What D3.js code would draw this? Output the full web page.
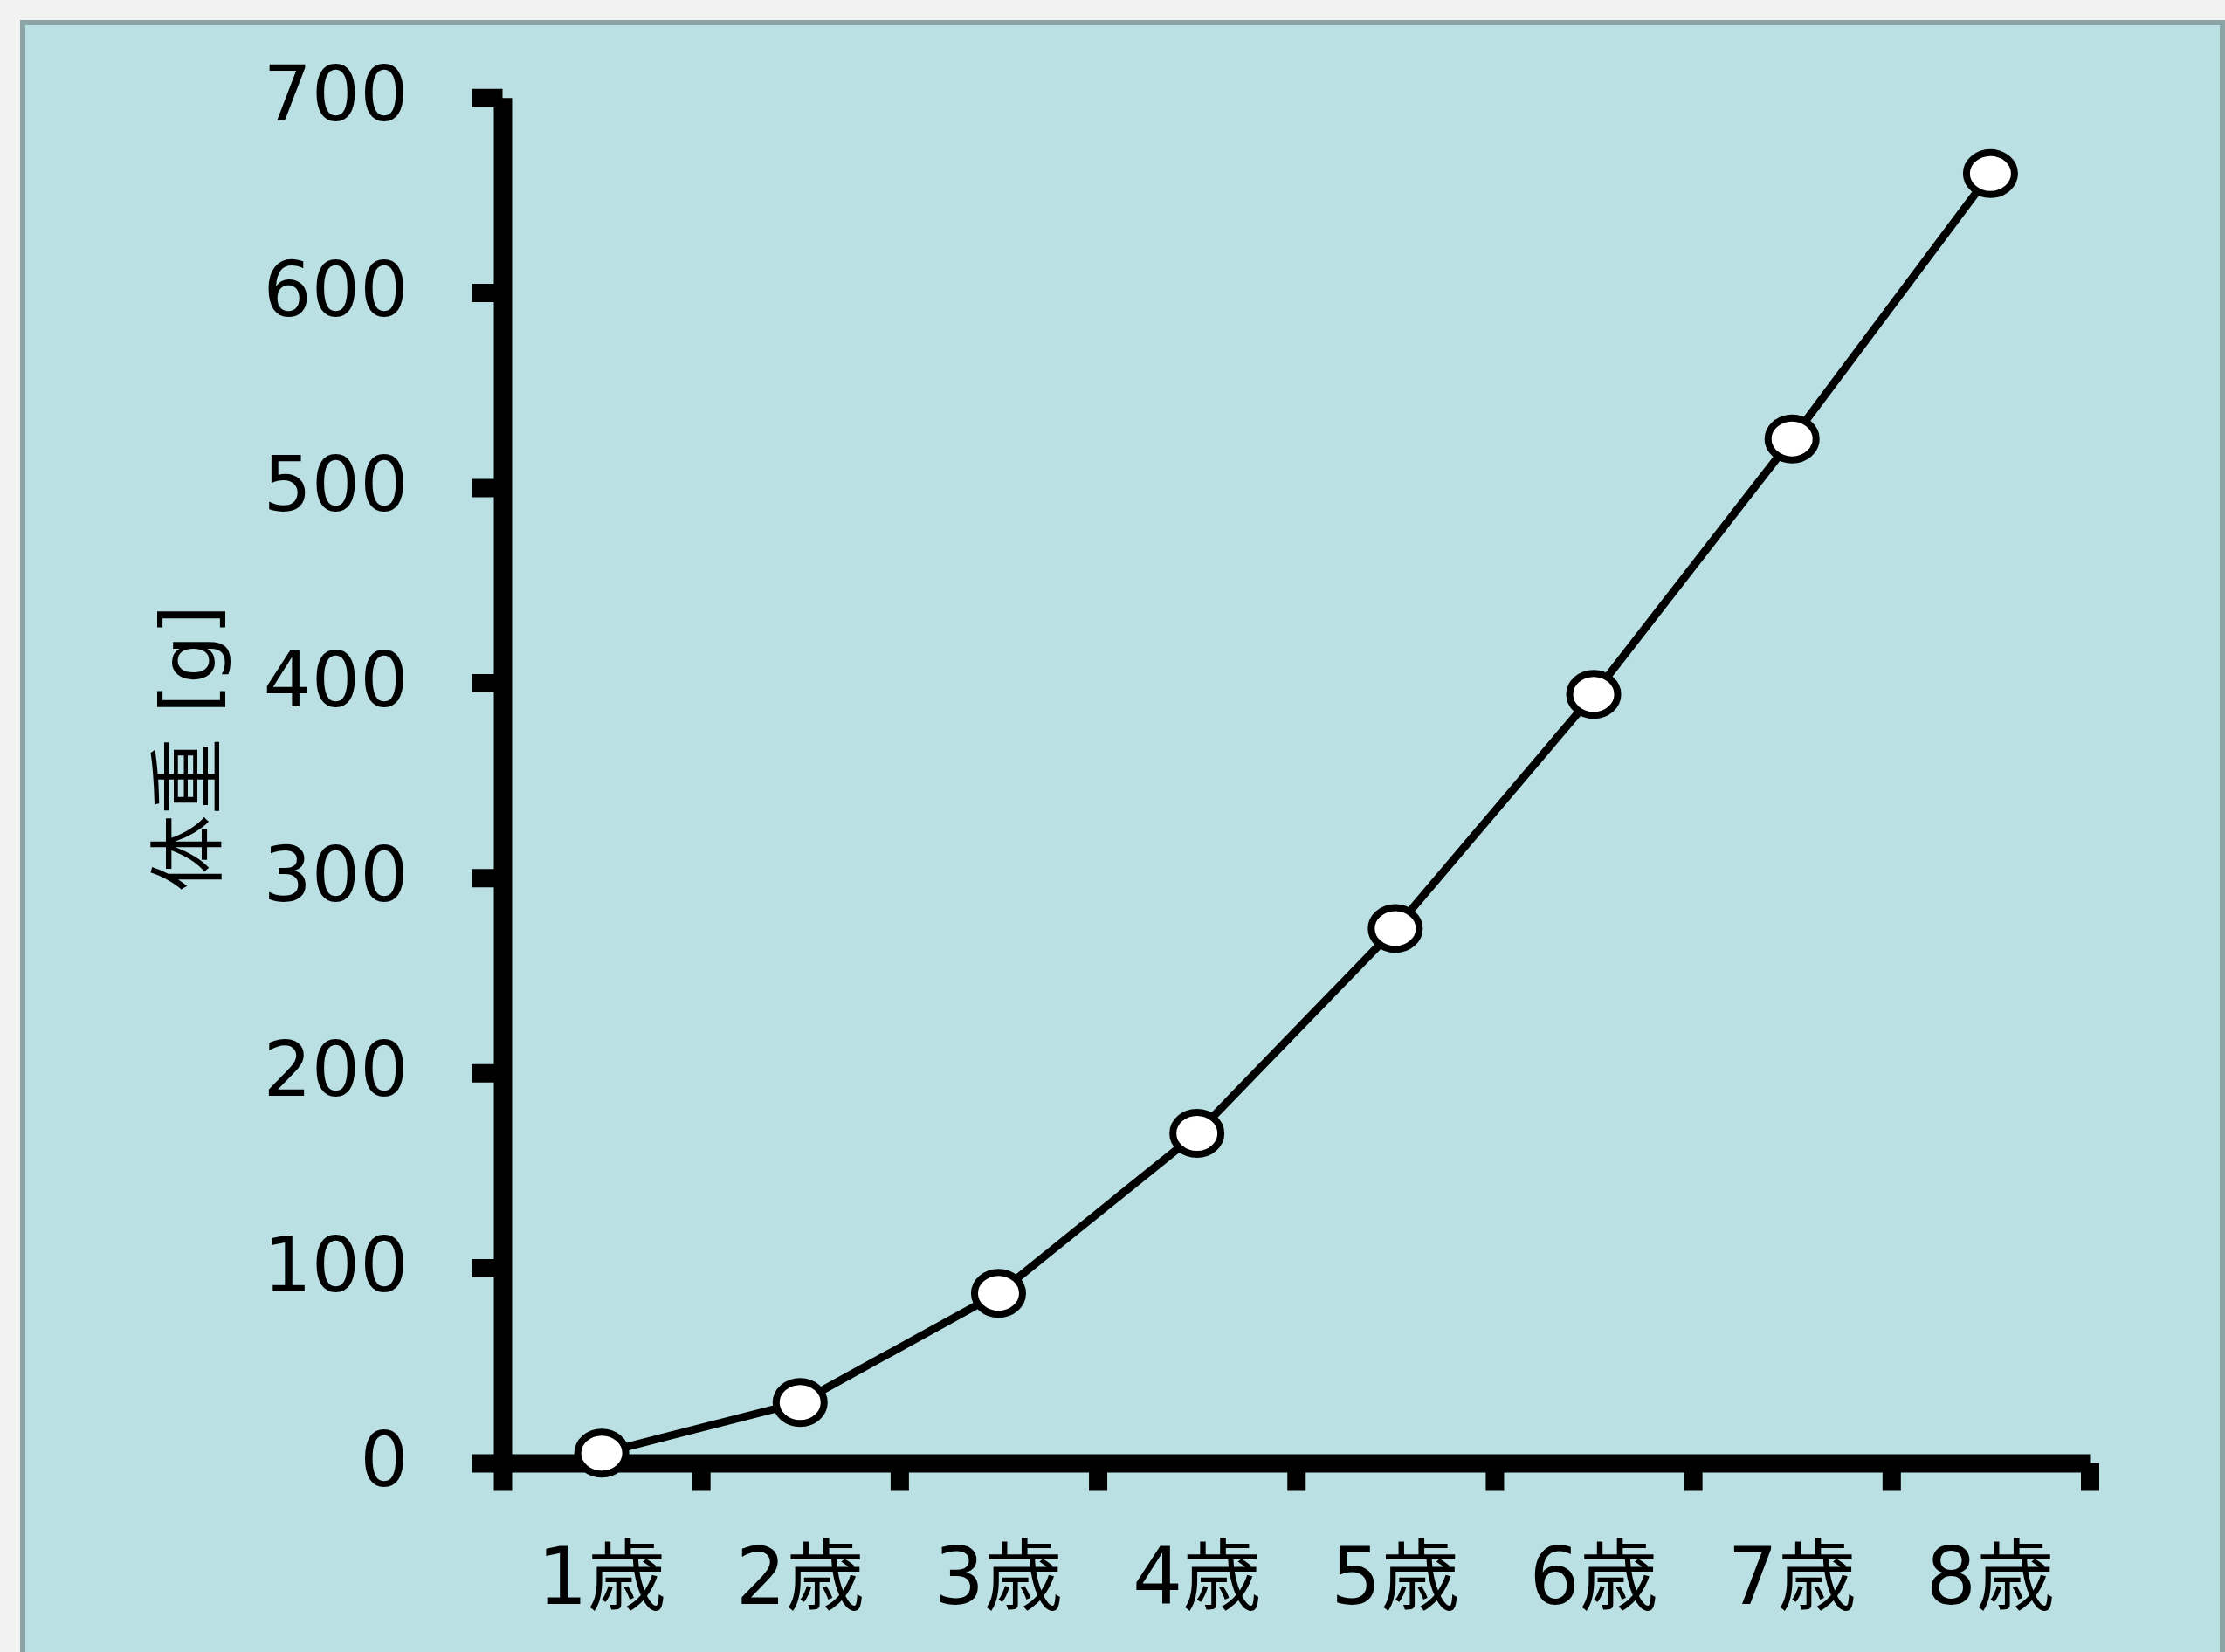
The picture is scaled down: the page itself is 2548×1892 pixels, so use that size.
<!DOCTYPE html>
<html>
<head>
<meta charset="utf-8">
<script src="https://d3js.org/d3.v7.min.js"></script>
<style>
  html, body { margin: 0; padding: 0; background: #f2f2f2; }
  svg { display: block; }
  text { font-family: "DejaVu Sans", "Noto Sans CJK JP", sans-serif; fill: #000; }
</style>
</head>
<body>
<svg id="chart" width="2548" height="1892"></svg>
<script>
// Body weight by age
const ages = ["1歳", "2歳", "3歳", "4歳", "5歳", "6歳", "7歳", "8歳"];
const weights = [5, 31, 87, 169, 274, 394, 525, 661];
const yTicks = [0, 100, 200, 300, 400, 500, 600, 700];
const yTitle = "体重 [g]";

const W = 2548, H = 1892;
const svg = d3.select("#chart");

// panel background with border
svg.append("rect")
  .attr("x", 26).attr("y", 26)
  .attr("width", 2519).attr("height", H + 20)
  .attr("fill", "#bbe0e3")
  .attr("stroke", "#8ba5a7")
  .attr("stroke-width", 6);

const plotLeft = 575.5, plotRight = 2393, plotTop = 111.7, plotBottom = 1675.5;

const x = d3.scaleBand().domain(ages).range([plotLeft, plotRight]).paddingInner(0).paddingOuter(0);
const xEdges = d3.scaleLinear().domain([0, ages.length]).range([plotLeft, plotRight]);
const y = d3.scaleLinear().domain([0, 700]).range([plotBottom, plotTop]);

const AXIS_W = 21;

// y axis
const gy = svg.append("g")
  .attr("transform", `translate(${plotLeft},0)`)
  .call(d3.axisLeft(y).tickValues(yTicks).tickSize(35).tickSizeOuter(0).tickPadding(73));
gy.select(".domain").attr("stroke", "#000").attr("stroke-width", AXIS_W).attr("fill", "none");
gy.selectAll(".tick line").attr("stroke", "#000").attr("stroke-width", AXIS_W);
gy.selectAll(".tick text").attr("font-size", 87).attr("font-family", null).attr("dy", "0.30em");

// x axis: tick marks on category boundaries
const gx = svg.append("g")
  .attr("transform", `translate(0,${plotBottom})`)
  .call(d3.axisBottom(xEdges).tickValues(d3.range(ages.length + 1)).tickFormat("").tickSize(32).tickSizeOuter(0));
gx.select(".domain").attr("stroke", "#000").attr("stroke-width", AXIS_W).attr("fill", "none");
gx.selectAll(".tick line").attr("stroke", "#000").attr("stroke-width", AXIS_W);

// x category labels centred in each band
const gxl = svg.append("g")
  .attr("transform", `translate(0,${plotBottom})`)
  .call(d3.axisBottom(x).tickSize(0).tickPadding(98));
gxl.select(".domain").remove();
gxl.selectAll(".tick text").attr("font-size", 90).attr("font-family", null);

// y title
svg.append("text")
  .attr("transform", `translate(215,857) rotate(-90)`)
  .attr("text-anchor", "middle")
  .attr("dominant-baseline", "central")
  .attr("font-size", 88)
  .text(yTitle);

// line
const pts = ages.map((a, i) => [x(a) + x.bandwidth() / 2, y(weights[i])]);
svg.append("path")
  .datum(pts)
  .attr("d", d3.line())
  .attr("fill", "none")
  .attr("stroke", "#000")
  .attr("stroke-width", 9)
  .attr("stroke-linejoin", "round");

// markers
svg.append("g").selectAll("ellipse")
  .data(pts)
  .join("ellipse")
  .attr("cx", d => d[0])
  .attr("cy", d => d[1])
  .attr("rx", 27.5)
  .attr("ry", 24)
  .attr("fill", "#fff")
  .attr("stroke", "#000")
  .attr("stroke-width", 8);
</script>
</body>
</html>
